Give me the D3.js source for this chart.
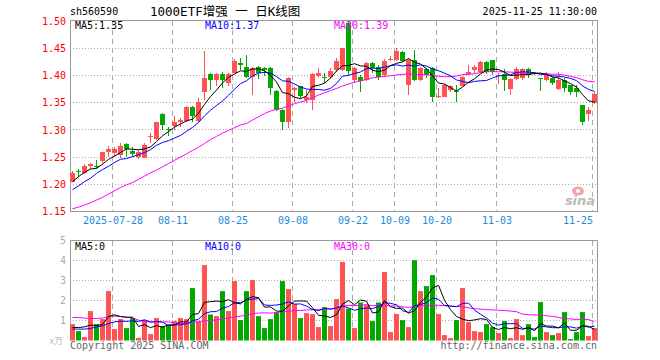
<!DOCTYPE html>
<html><head><meta charset="utf-8">
<script src="https://cdn.jsdelivr.net/npm/d3@7/dist/d3.min.js"></script>
<style>body{margin:0;background:#fff}svg{display:block}</style>
</head><body><svg id="c" width="660" height="360"></svg>
<script>
const dates = [
"2025-07-17","2025-07-18","2025-07-21","2025-07-22","2025-07-23","2025-07-24","2025-07-25","2025-07-28","2025-07-29","2025-07-30","2025-07-31",
"2025-08-01","2025-08-04","2025-08-05","2025-08-06","2025-08-07","2025-08-08","2025-08-11","2025-08-12","2025-08-13","2025-08-14","2025-08-15","2025-08-18","2025-08-19","2025-08-20","2025-08-21","2025-08-22","2025-08-25","2025-08-26","2025-08-27","2025-08-28","2025-08-29",
"2025-09-01","2025-09-02","2025-09-03","2025-09-04","2025-09-05","2025-09-08","2025-09-09","2025-09-10","2025-09-11","2025-09-12","2025-09-15","2025-09-16","2025-09-17","2025-09-18","2025-09-19","2025-09-22","2025-09-23","2025-09-24","2025-09-25","2025-09-26","2025-09-29","2025-09-30",
"2025-10-09","2025-10-10","2025-10-13","2025-10-14","2025-10-15","2025-10-16","2025-10-17","2025-10-20","2025-10-21","2025-10-22","2025-10-23","2025-10-24","2025-10-27","2025-10-28","2025-10-29","2025-10-30","2025-10-31",
"2025-11-03","2025-11-04","2025-11-05","2025-11-06","2025-11-07","2025-11-10","2025-11-11","2025-11-12","2025-11-13","2025-11-14","2025-11-17","2025-11-18","2025-11-19","2025-11-20","2025-11-21","2025-11-24","2025-11-25"];

const open  = [1.205,1.224,1.221,1.233,1.234,1.242,1.260,1.257,1.254,1.274,1.262,1.251,1.249,1.287,1.283,1.329,1.301,1.307,1.315,1.317,
1.342,1.317,1.370,1.402,1.391,1.402,1.386,1.404,1.423,1.416,1.398,1.416,1.413,1.413,1.372,1.337,1.315,1.374,1.380,1.355,
1.355,1.399,1.398,1.397,1.410,1.410,1.497,1.392,1.398,1.392,1.423,1.416,1.401,1.428,1.429,1.443,1.383,1.429,1.392,1.411,
1.413,1.361,1.361,1.374,1.372,1.381,1.403,1.410,1.407,1.424,1.429,1.400,1.403,1.375,1.393,1.395,1.411,1.405,1.396,1.392,
1.395,1.375,1.392,1.382,1.377,1.346,1.329,1.349];
const high  = [1.225,1.229,1.238,1.240,1.245,1.260,1.270,1.268,1.276,1.276,1.268,1.263,1.276,1.294,1.314,1.331,1.305,1.325,1.321,1.344,
1.343,1.358,1.445,1.404,1.404,1.407,1.404,1.430,1.432,1.438,1.415,1.418,1.416,1.416,1.374,1.339,1.398,1.378,1.381,1.374,
1.404,1.413,1.404,1.413,1.432,1.451,1.500,1.415,1.401,1.424,1.424,1.419,1.430,1.435,1.450,1.444,1.430,1.447,1.416,1.413,
1.416,1.377,1.385,1.382,1.383,1.399,1.419,1.419,1.427,1.426,1.429,1.405,1.411,1.395,1.415,1.413,1.413,1.407,1.396,1.407,
1.397,1.407,1.395,1.383,1.383,1.346,1.342,1.369];
const low   = [1.205,1.214,1.219,1.228,1.228,1.240,1.251,1.251,1.248,1.251,1.250,1.246,1.248,1.276,1.282,1.300,1.289,1.300,1.306,1.315,
1.314,1.315,1.355,1.374,1.380,1.377,1.380,1.404,1.410,1.395,1.364,1.393,1.399,1.364,1.334,1.300,1.303,1.352,1.358,1.349,
1.337,1.398,1.387,1.393,1.407,1.409,1.401,1.386,1.370,1.389,1.404,1.392,1.398,1.426,1.426,1.424,1.364,1.389,1.389,1.395,
1.352,1.358,1.360,1.370,1.352,1.380,1.401,1.405,1.404,1.403,1.401,1.385,1.372,1.364,1.392,1.392,1.395,1.401,1.372,1.390,
1.383,1.374,1.370,1.364,1.361,1.309,1.317,1.348];
const close = [1.221,1.222,1.234,1.238,1.232,1.259,1.265,1.265,1.271,1.265,1.256,1.260,1.273,1.289,1.314,1.309,1.299,1.314,1.318,1.342,
1.326,1.352,1.395,1.391,1.402,1.391,1.403,1.427,1.419,1.397,1.413,1.404,1.410,1.377,1.336,1.315,1.395,1.377,1.363,1.361,
1.403,1.405,1.397,1.409,1.427,1.450,1.409,1.413,1.389,1.423,1.413,1.397,1.427,1.430,1.444,1.426,1.429,1.392,1.413,1.401,
1.361,1.363,1.383,1.380,1.370,1.397,1.407,1.415,1.424,1.407,1.407,1.401,1.391,1.393,1.411,1.411,1.401,1.404,1.394,1.401,
1.386,1.392,1.377,1.369,1.370,1.315,1.336,1.366];
const volume = [0.82,0.47,0.17,1.47,0.82,1.07,2.47,0.57,1.07,0.62,1.12,0.13,1.03,0.32,1.12,0.73,0.73,0.97,1.12,1.07,
2.62,0.95,3.77,1.30,1.22,2.47,1.47,2.97,1.02,2.47,3.02,1.22,0.62,1.07,1.42,2.97,2.57,1.82,1.12,1.37,
1.32,0.67,1.67,0.72,2.07,3.93,1.60,0.62,1.90,1.77,0.97,1.90,3.42,0.42,1.32,1.02,0.67,4.02,2.47,2.72,
3.27,1.32,0.27,0.12,1.02,2.62,0.92,0.47,0.42,0.82,0.67,0.37,0.97,0.12,1.07,0.27,0.82,0.17,1.92,0.42,
0.27,0.37,1.42,0.07,0.42,1.42,0.22,0.62];

// moving-average values before enough history exists
const ma5Head  = [1.205,1.214,1.222,1.228];
const ma10Head = [1.190,1.197,1.205,1.211,1.220,1.227,1.233,1.240,1.246];
const ma30Head = [1.155,1.158,1.162,1.166,1.171,1.176,1.182,1.188,1.194,1.199,1.203,1.209,1.215,1.221,1.226,1.232,1.238,1.244,1.250,1.256,1.262,1.268,1.275,1.282,1.288,1.294,1.299,1.304,1.309];
const volMa5Head  = [0.65,0.65,0.68,0.77];
const volMa10Head = [0.57,0.57,0.57,0.60,0.68,0.73,0.85,0.93,0.97];
const volMa30Head = [1.15,1.15,1.12,1.10,1.10,1.12,1.20,1.22,1.20,1.17,1.12,1.02,0.95,0.93,0.93,0.93,0.93,0.88,0.85,0.85,0.88,0.95,0.98,1.00,1.03,1.07,1.13,1.18,1.22];

const priceTicks = [1.15,1.20,1.25,1.30,1.35,1.40,1.45,1.50];
const priceGrid = [1.20,1.25,1.30,1.35,1.40,1.45];
const volTicks = [1,2,3,4,5];
const dateTicks = ["2025-07-28","2025-08-11","2025-08-25","2025-09-08","2025-09-22","2025-10-09","2025-10-20","2025-11-03","2025-11-25"];
const dateTickLabels = ["2025-07-28","08-11","08-25","09-08","09-22","10-09","10-20","11-03","11-25"];
const maLabels = ["MA5:1.35","MA10:1.37","MA30:1.39"];
const volMaLabels = ["MA5:0","MA10:0","MA30:0"];

function movingAvg(vals, n, head){
  return vals.map((v,i)=> i < n-1 ? head[i] : d3.mean(vals.slice(i-n+1,i+1)));
}

const RED="#ff5252", GREEN="#00a800", MONO="'DejaVu Sans Mono', monospace";
const svg = d3.select("#c");
const L=70, R=597;
const x = d3.scalePoint().domain(dates).range([70.5, 70.5+6*(dates.length-1)]);
const yP = d3.scaleLinear().domain([1.15,1.50]).range([211.5,21]);
const yV = d3.scaleLinear().domain([0,5]).range([340.5,240.5]);
const snap = v => Math.round(v-0.5)+0.5;

// header
svg.append("text").attr("x",70).attr("y",15).attr("font-family",MONO).attr("font-size",10).text("sh560590");
svg.append("text").attr("x",150).attr("y",16).attr("font-family","'DejaVu Sans Mono','Noto Sans CJK SC',monospace").attr("font-size",12.5).text("1000ETF增强 一 日K线图");
svg.append("text").attr("x",597).attr("y",15).attr("text-anchor","end").attr("font-family",MONO).attr("font-size",10).text("2025-11-25 11:30:00");

// grids main
const gMain = svg.append("g");
gMain.selectAll("line.h").data(priceGrid).join("line")
  .attr("x1",L).attr("x2",R).attr("y1",d=>snap(yP(d))).attr("y2",d=>snap(yP(d)))
  .attr("stroke","#aaa").attr("stroke-dasharray","1,2");
gMain.selectAll("line.v").data(dateTicks).join("line")
  .attr("x1",d=>x(d)).attr("x2",d=>x(d)).attr("y1",21).attr("y2",211)
  .attr("stroke","#aaa").attr("stroke-dasharray","5,4");
// grids vol
const gVol = svg.append("g");
gVol.selectAll("line.h").data(volTicks.slice(0,4)).join("line")
  .attr("x1",L).attr("x2",R).attr("y1",d=>snap(yV(d))).attr("y2",d=>snap(yV(d)))
  .attr("stroke","#aaa").attr("stroke-dasharray","1,2");
gVol.selectAll("line.v").data(dateTicks).join("line")
  .attr("x1",d=>x(d)).attr("x2",d=>x(d)).attr("y1",241).attr("y2",341)
  .attr("stroke","#aaa").attr("stroke-dasharray","5,4");

// sina logo watermark
const logo = svg.append("g");
logo.append("ellipse").attr("cx",578).attr("cy",191).attr("rx",6).attr("ry",4.5).attr("fill","#f5a3a3");
logo.append("circle").attr("cx",578).attr("cy",191).attr("r",2).attr("fill","#fff");
logo.append("text").attr("x",580).attr("y",205).attr("text-anchor","middle").attr("font-family","'DejaVu Sans',sans-serif")
  .attr("font-size",13).attr("font-weight","bold").attr("font-style","italic").attr("fill","#bbb").text("sina");

// frames
svg.append("rect").attr("x",70.5).attr("y",20.5).attr("width",R-70).attr("height",191).attr("fill","none").attr("stroke","#999");
svg.append("path").attr("d",`M70.5,341V240.5H597.5V341`).attr("fill","none").attr("stroke","#999");

// price axis
const ay = svg.append("g").attr("transform","translate(70,0)")
  .call(d3.axisLeft(yP).tickValues(priceTicks).tickFormat(d3.format(".2f")).tickSize(0).tickPadding(4));
ay.select(".domain").remove();
ay.selectAll("text").attr("font-family",MONO).attr("font-size",10).attr("fill","#f00");

// volume axis
const av = svg.append("g").attr("transform","translate(70,0)")
  .call(d3.axisLeft(yV).tickValues(volTicks).tickFormat(d3.format("d")).tickSize(0).tickPadding(4));
av.select(".domain").remove();
av.selectAll("text").attr("font-family",MONO).attr("font-size",10).attr("fill","#aaa");
svg.append("text").attr("x",63).attr("y",344).attr("text-anchor","end").attr("font-family","'Noto Sans CJK SC',sans-serif").attr("font-size",9).attr("fill","#bbb").text("x万");

// date axis
const ax = svg.append("g").attr("transform","translate(0,211)")
  .call(d3.axisBottom(x).tickValues(dateTicks).tickFormat((d,i)=>dateTickLabels[i]).tickSize(0).tickPadding(6));
ax.select(".domain").remove();
ax.selectAll("text").attr("font-family",MONO).attr("font-size",10).attr("fill","#1a8ad8");
ax.selectAll(".tick").filter((d,i,n)=>i===n.length-1).select("text").attr("text-anchor","end");

// candles
const data = dates.map((d,i)=>({d,o:open[i],h:high[i],l:low[i],c:close[i],v:volume[i]}));
const col = d => d.c >= d.o ? RED : GREEN;
const gC = svg.append("g");
gC.selectAll("line").data(data).join("line")
  .attr("x1",d=>x(d.d)+2).attr("x2",d=>x(d.d)+2)
  .attr("y1",d=>Math.round(yP(d.h))).attr("y2",d=>Math.round(yP(d.l)))
  .attr("stroke",col);
gC.selectAll("rect").data(data).join("rect")
  .attr("x",d=>x(d.d)-0.5).attr("width",5)
  .attr("y",d=>Math.round(yP(Math.max(d.o,d.c))))
  .attr("height",d=>Math.max(1,Math.round(yP(Math.min(d.o,d.c)))-Math.round(yP(Math.max(d.o,d.c)))))
  .attr("fill",col);

// volume bars
svg.append("g").selectAll("rect").data(data).join("rect")
  .attr("x",d=>x(d.d)-0.5).attr("width",5)
  .attr("y",d=>yV(d.v)).attr("height",d=>yV(0)-yV(d.v))
  .attr("fill",col);

// MA lines
svg.append("clipPath").attr("id","clipM").append("rect").attr("x",71).attr("y",21).attr("width",R-71).attr("height",190);
const lineP = d3.line().x((v,i)=>x(dates[i])+2).y(v=>yP(v));
const lineV = d3.line().x((v,i)=>x(dates[i])+2).y(v=>yV(v));
const maSets = [
  [movingAvg(close,30,ma30Head),"#ff00ff"],
  [movingAvg(close,10,ma10Head),"#0000ff"],
  [movingAvg(close,5,ma5Head),"#000"]];
maSets.forEach(([s,c])=>svg.append("path").attr("d",lineP(s)).attr("fill","none").attr("stroke",c).attr("stroke-width",1).attr("clip-path","url(#clipM)"));
const volSets = [
  [movingAvg(volume,30,volMa30Head),"#ff00ff"],
  [movingAvg(volume,10,volMa10Head),"#0000ff"],
  [movingAvg(volume,5,volMa5Head),"#000"]];
volSets.forEach(([s,c])=>svg.append("path").attr("d",lineV(s)).attr("fill","none").attr("stroke",c).attr("stroke-width",1));

// MA labels
const labX=[75,205,334], labC=["#000","#0000ff","#ff00ff"];
maLabels.forEach((t,i)=>svg.append("text").attr("x",labX[i]).attr("y",29).attr("font-family",MONO).attr("font-size",10).attr("fill",labC[i]).text(t));
volMaLabels.forEach((t,i)=>svg.append("text").attr("x",labX[i]).attr("y",250).attr("font-family",MONO).attr("font-size",10).attr("fill",labC[i]).text(t));

// footer
svg.append("text").attr("x",70).attr("y",349).attr("font-family",MONO).attr("font-size",10).attr("fill","#666").text("Copyright 2025 SINA.COM");
svg.append("text").attr("x",597).attr("y",349).attr("text-anchor","end").attr("font-family",MONO).attr("font-size",10).attr("fill","#666").text("http://finance.sina.com.cn");
</script></body></html>
